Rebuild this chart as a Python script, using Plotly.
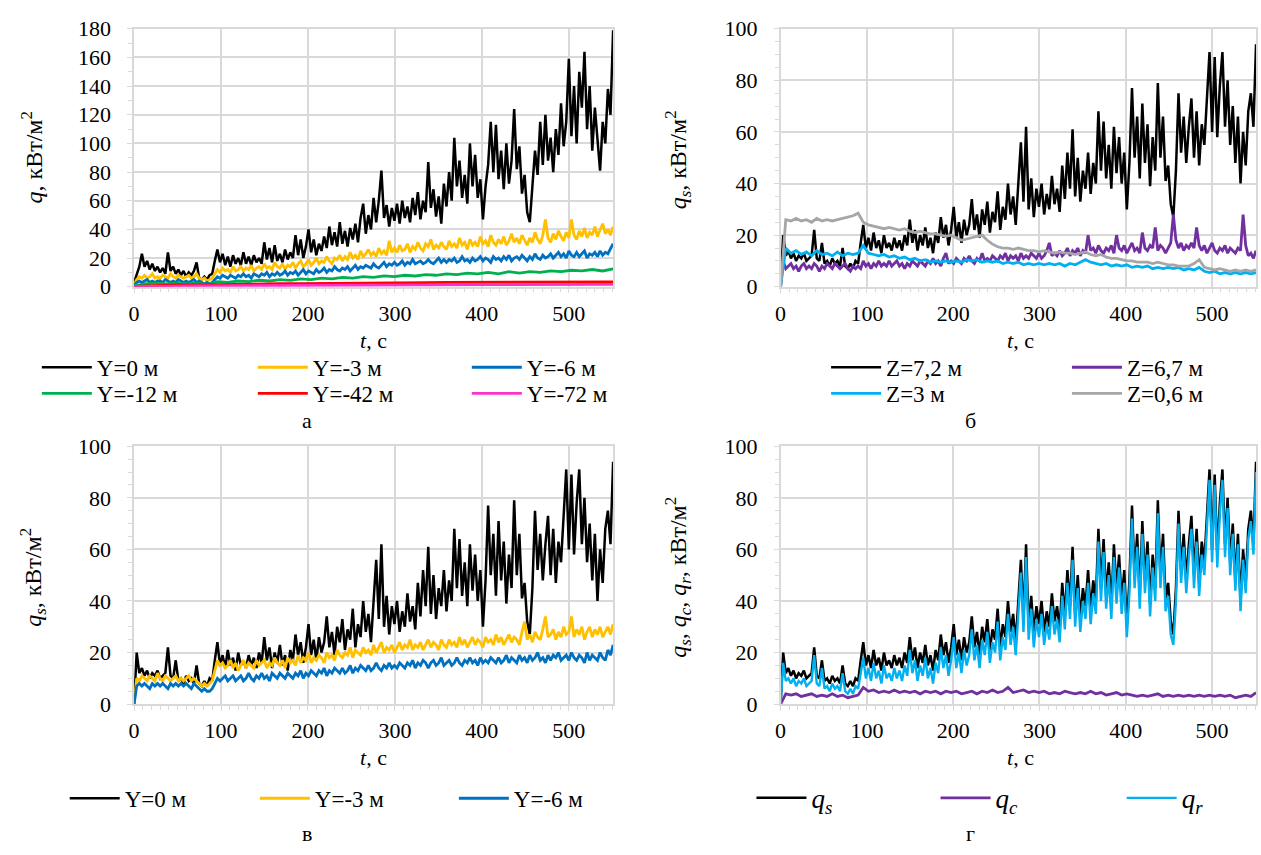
import numpy as np
import plotly.graph_objects as go

W, H = 1261, 855
T_END = 551
FONT = "Liberation Serif, Times New Roman, serif"
GRID = "#d9d9d9"

# ---------------- panel а: q at different Y ----------------
a_y0 = [3, 8, 14, 23, 14, 18, 12, 16, 11, 14,
        10, 13, 9, 24, 11, 14, 9, 12, 8, 11,
        7, 10, 8, 11, 17, 6, 5, 7, 5, 8,
        9, 18, 26, 17, 23, 15, 21, 14, 22, 16,
        20, 15, 24, 16, 21, 15, 22, 17, 20, 16,
        31, 19, 27, 17, 29, 18, 23, 17, 26, 19,
        24, 20, 36, 22, 33, 20, 28, 40, 24, 33,
        22, 30, 25, 35, 27, 42, 29, 38, 28, 45,
        30, 39, 28, 41, 33, 44, 31, 48, 58, 37,
        50, 40, 62, 45, 60, 81, 48, 57, 42, 55,
        46, 58, 44, 60, 48, 56, 45, 62, 50, 66,
        47, 60, 52, 87, 55, 68, 49, 63, 44, 72,
        56, 80, 60, 104, 70, 88, 62, 78, 58, 100,
        70, 92, 62, 75, 47, 70, 85, 115, 80, 113,
        75, 95, 68, 100, 72, 88, 124, 82, 98, 65,
        78, 52, 45, 70, 95, 78, 115, 85, 120, 88,
        104, 80, 110, 92, 128, 98, 115, 159, 105, 140,
        100, 150, 125, 164, 110, 140, 95, 125, 100, 81,
        115, 100, 138, 120, 179]
a_y3 = [1, 5, 7, 6, 8, 6, 7, 9, 6, 7,
        6, 8, 7, 6, 9, 7, 6, 8, 7, 6,
        7, 8, 6, 7, 9, 6, 5, 6, 4, 5,
        6, 9, 12, 10, 13, 11, 12, 10, 14, 11,
        12, 14, 11, 13, 12, 15, 11, 13, 14, 12,
        16, 13, 14, 12, 17, 14, 13, 16, 12, 15,
        14, 17, 13, 16, 18, 14, 16, 19, 15, 17,
        20, 16, 18, 17, 21, 18, 16, 20, 19, 22,
        18, 21, 19, 24, 20, 22, 19, 25, 21, 23,
        26, 22, 24, 21, 27, 23, 25, 22, 32, 24,
        27, 24, 29, 25, 26, 30, 24, 28, 26, 31,
        27, 25, 30, 28, 33, 26, 29, 27, 31, 28,
        26, 32, 28, 30, 27, 34, 29, 31, 26, 33,
        29, 31, 28, 35, 30, 32, 28, 36, 31, 29,
        33, 30, 35, 29, 32, 37, 31, 34, 30, 36,
        32, 29, 34, 31, 38, 33, 30, 36, 47, 34,
        31, 37, 33, 39, 35, 32, 38, 34, 47, 36,
        33, 39, 35, 41, 34, 38, 36, 42, 35, 39,
        44, 37, 40, 36, 42]
a_y6 = [1, 3, 4, 3, 4, 5, 3, 4, 3, 4,
        4, 3, 5, 4, 3, 4, 3, 5, 4, 3,
        4, 3, 4, 5, 3, 4, 3, 2, 3, 2,
        3, 5, 7, 6, 8, 7, 6, 8, 7, 6,
        8, 7, 9, 7, 8, 6, 9, 8, 7, 9,
        8, 10, 7, 9, 8, 10, 8, 9, 11, 8,
        10, 9, 11, 8, 10, 12, 9, 11, 10, 9,
        12, 10, 11, 13, 10, 12, 11, 14, 12, 11,
        13, 12, 14, 11, 13, 15, 12, 14, 13, 15,
        14, 13, 16, 14, 13, 15, 17, 14, 16, 15,
        17, 15, 16, 18, 15, 17, 16, 19, 16, 17,
        18, 16, 17, 19, 17, 16, 18, 20, 17, 19,
        17, 19, 18, 20, 17, 18, 21, 18, 19, 17,
        20, 18, 19, 21, 18, 20, 19, 17, 21, 19,
        20, 18, 21, 19, 22, 18, 20, 21, 19, 22,
        20, 18, 21, 19, 23, 20, 19, 22, 20, 21,
        23, 20, 22, 24, 21, 23, 20, 25, 22, 21,
        24, 21, 23, 25, 20, 23, 22, 24, 21, 25,
        22, 24, 23, 27, 30]
a_y12 = [0.5, 2, 2.5, 2, 2.5, 2, 2.5, 1.5, 3.5, 3,
         4, 3.5, 4.5, 4, 5, 4.5, 5.5, 5, 6, 5.5,
         6.5, 6, 7, 6.5, 7.5, 7, 8, 7.5, 8.5, 8,
         9, 8.5, 9.5, 9, 10, 9, 10.5, 9.5, 10.5, 10,
         11, 10.5, 11.5, 11, 12, 11, 12.5]
a_y42 = [0.3, 1, 1.2, 1.3, 1.6, 1.8, 2, 2.1, 2.2, 2.4,
         2.5, 2.6, 2.7, 2.8, 2.9, 3, 3, 3.1, 3.1, 3.2,
         3.2, 3.3, 3.3, 3.4]
a_y72 = [0.1, 0.4, 0.5, 0.5, 0.6, 0.7, 0.8, 0.8, 0.9, 1,
         1, 1.1, 1.1, 1.2, 1.2, 1.3, 1.3, 1.4, 1.4, 1.4,
         1.5, 1.5, 1.5, 1.6]

# ---------------- panel б: q_s at different Z ----------------
b_z72 = [0, 20, 12, 14, 11, 13, 10, 12, 11, 13,
         10, 11, 12, 22, 11, 10, 17, 9, 10, 8,
         11, 9, 10, 8, 15, 8, 7, 9, 7, 10,
         9, 17, 24, 15, 19, 14, 21, 15, 18, 13,
         20, 15, 17, 14, 19, 15, 18, 14, 20, 16,
         26, 17, 22, 14, 20, 16, 23, 15, 19, 13,
         21, 17, 27, 19, 24, 16, 22, 31, 19, 25,
         17, 26, 20, 24, 34, 22, 28, 19, 30, 24,
         33, 21, 29, 25, 37, 22, 31, 26, 40, 28,
         35, 24, 41, 56, 33, 62, 30, 42, 27, 38,
         31, 40, 28, 36, 30, 43, 32, 38, 29, 47,
         34, 52, 38, 61, 35, 50, 33, 45, 38, 52,
         36, 48, 40, 68, 45, 64, 42, 55, 38, 62,
         44, 58, 40, 52, 30, 48, 77, 50, 66, 42,
         71, 48, 63, 39, 58, 45, 79, 50, 66, 41,
         47, 32, 27, 45, 75, 52, 66, 48, 62, 73,
         50, 68, 47, 63, 55, 72, 91, 60, 89, 58,
         78, 91, 62, 80, 55, 70, 48, 66, 40, 60,
         47, 68, 75, 62, 94]
b_z67 = [0, 10, 7, 8, 9, 7, 8, 6, 8, 9,
         7, 8, 7, 9, 8, 6, 8, 7, 9, 8,
         7, 9, 8, 7, 8, 9, 7, 6, 8, 7,
         8, 7, 10, 8, 9, 7, 9, 8, 10, 8,
         9, 8, 10, 8, 9, 10, 8, 9, 7, 9,
         8, 10, 9, 8, 10, 9, 8, 10, 9, 11,
         9, 10, 8, 11, 13, 9, 10, 9, 11, 10,
         9, 11, 10, 12, 10, 9, 11, 10, 13, 10,
         11, 10, 12, 11, 10, 12, 11, 13, 10, 12,
         11, 12, 10, 13, 11, 12, 11, 13, 12, 11,
         13, 11, 12, 14, 17, 12, 13, 12, 14, 12,
         13, 15, 12, 14, 13, 15, 12, 14, 13, 20,
         14, 15, 13, 16, 14, 13, 15, 14, 16, 13,
         20, 15, 14, 16, 13, 15, 17, 14, 15, 13,
         21, 15, 14, 16, 15, 23, 14, 16, 15, 13,
         15, 17, 28, 18, 15, 17, 14, 16, 15, 17,
         15, 23, 16, 14, 16, 13, 15, 17, 14, 13,
         15, 14, 16, 13, 15, 14, 13, 15, 14, 28,
         16, 12, 13, 11, 14]
b_z3 = [0, 15, 13, 14, 12.5, 13.5, 12, 14, 12.5, 13,
        12, 13.5, 12, 13, 12.5, 13, 16, 13, 12.5, 12,
        12.5, 11.5, 12, 11, 11.5, 10.5, 11, 10, 10.5, 9.5,
        10, 9.5, 10, 9.5, 10, 9.5, 10.5, 10, 10.5, 9.5,
        10, 9.5, 10, 9, 9.5, 9, 9.5, 8.5, 9, 8.5,
        9, 8.5, 9, 8.5, 9, 8, 9, 8.5, 9.5, 10.5,
        9.5, 9, 8.5, 9, 8, 8.5, 8, 8.5, 7.5, 8,
        7.5, 8, 7, 7.5, 7, 7.5, 7, 7.5, 6.5, 7,
        6.5, 7.5, 6, 5.5, 6, 5, 5.5, 5, 5.5, 5,
        5.5, 5, 5.5]
b_z06 = [0, 26, 25.5, 26.5, 25.5, 26, 25, 26.5, 25.5, 26,
         25.5, 26, 26.5, 27, 27.5, 28.5, 25, 24, 23.5, 23,
         22.5, 23, 22.5, 22, 22.5, 21.5, 21, 21.5, 21, 20.5,
         20.5, 20, 19.5, 20, 19, 18, 18.5, 19, 19.5, 20,
         18, 16.5, 15.5, 15, 15, 14.5, 15, 14.5, 14, 14,
         13.5, 14, 13.5, 13, 13.5, 13, 13, 12.5, 13, 13.5,
         12.5, 12, 12.5, 11.5, 11, 11, 10.5, 10, 10, 9.5,
         9.5, 9.5, 9, 9.5, 9, 8.5, 8.5, 8, 8, 8,
         9, 10.5, 7.5, 7, 6.5, 7, 6.5, 6, 6.5, 6,
         6.5, 6, 6.5]

# ---------------- panel в: q_s at different Y ----------------
c_y3 = [0, 10, 9, 11, 10, 9, 11, 10, 9, 12,
        10, 9, 11, 10, 9, 10, 11, 9, 10, 9,
        10, 11, 9, 10, 9, 8, 7, 8, 7, 8,
        9, 13, 17, 15, 16, 14, 15, 17, 14, 16,
        13, 15, 17, 14, 16, 15, 14, 17, 15, 16,
        17, 14, 16, 15, 18, 16, 15, 17, 14, 18,
        16, 17, 15, 19, 16, 18, 17, 20, 16, 18,
        17, 19, 18, 16, 20, 18, 19, 17, 21, 19,
        18, 20, 19, 22, 18, 21, 20, 19, 22, 20,
        21, 19, 23, 20, 22, 24, 20, 22, 21, 23,
        20, 22, 24, 21, 23, 22, 25, 21, 23, 22,
        24, 21, 23, 25, 22, 24, 23, 21, 25, 23,
        22, 25, 23, 24, 22, 26, 23, 25, 22, 24,
        26, 23, 25, 24, 22, 26, 24, 25, 23, 27,
        24, 26, 23, 25, 27, 24, 26, 25, 23, 28,
        32, 25, 27, 24, 28, 26, 25, 29, 34, 26,
        27, 29, 25, 28, 26, 30, 27, 28, 34, 26,
        29, 27, 30, 25, 28, 30, 26, 29, 27, 30,
        26, 28, 30, 27, 31]
c_y6 = [0, 7, 8, 7, 8, 7, 6, 8, 7, 8,
        7, 8, 7, 6, 8, 7, 8, 7, 8, 7,
        8, 7, 6, 8, 7, 6, 5, 6, 5, 5,
        6, 8, 10, 9, 10, 11, 9, 10, 11, 9,
        10, 11, 9, 10, 12, 10, 9, 11, 10, 12,
        10, 11, 9, 12, 11, 10, 12, 11, 10, 12,
        11, 10, 12, 11, 13, 10, 12, 11, 13, 12,
        11, 13, 12, 14, 11, 13, 12, 14, 13, 12,
        14, 12, 13, 15, 12, 14, 13, 15, 14, 13,
        15, 13, 14, 16, 14, 13, 15, 14, 16, 14,
        15, 14, 16, 15, 14, 16, 15, 17, 14, 16,
        15, 17, 16, 14, 16, 17, 15, 16, 18, 15,
        16, 17, 15, 16, 18, 16, 15, 17, 16, 18,
        16, 17, 15, 18, 16, 17, 16, 18, 17, 16,
        18, 16, 17, 19, 16, 18, 17, 16, 19, 17,
        18, 16, 19, 17, 18, 20, 17, 18, 16, 19,
        17, 19, 18, 20, 17, 18, 19, 17, 20, 18,
        17, 19, 18, 16, 20, 17, 19, 18, 17, 20,
        18, 17, 21, 19, 23]

# ---------------- panel г: components of q_s at Z=7.2 ----------------
d_qc = [0, 4, 3.5, 4, 3, 3.5, 4, 3, 3.5, 3,
        4, 3, 3.5, 2.5, 3, 3.5, 6.5, 5, 5.5, 4.5,
        5, 4.5, 5.5, 4.5, 5, 4.5, 5, 4, 5, 4.5,
        5, 4, 5, 4.5, 5, 4, 4.5, 5, 4, 5,
        4.5, 5.5, 4.5, 5, 6.5, 4.5, 5, 5.5, 4.5, 5,
        4.5, 5, 4, 4.5, 4, 5, 4.5, 4, 4.5, 4,
        5, 4, 4.5, 3.5, 4, 4.5, 3.5, 4, 3.5, 3,
        3.5, 3, 3.5, 4, 3, 3.5, 3, 3.5, 3, 3.5,
        3, 3.5, 3, 3.5, 3, 3.5, 3, 3.5, 2.5, 3,
        3.5, 3, 4.5]
d_qr = [0, 16, 9, 10, 8, 10, 7, 9, 8, 10,
        7, 8, 9, 19, 8, 7, 14, 6, 7, 5,
        8, 6, 7, 5, 12, 5, 4, 6, 4, 7,
        6, 12, 18, 10, 14, 9, 16, 10, 13, 8,
        15, 10, 12, 9, 14, 10, 13, 9, 15, 11,
        21, 12, 17, 9, 15, 11, 18, 10, 14, 8,
        16, 12, 22, 14, 19, 11, 17, 26, 14, 20,
        12, 21, 15, 19, 29, 17, 23, 14, 25, 19,
        28, 16, 24, 20, 32, 17, 26, 21, 35, 23,
        30, 19, 36, 51, 28, 57, 25, 37, 22, 33,
        26, 35, 23, 31, 25, 38, 27, 33, 24, 42,
        29, 47, 33, 56, 30, 45, 28, 40, 33, 47,
        31, 43, 35, 63, 40, 59, 37, 50, 33, 57,
        39, 53, 35, 47, 26, 43, 72, 45, 61, 37,
        66, 43, 58, 34, 53, 40, 74, 45, 61, 36,
        42, 27, 23, 40, 70, 47, 61, 43, 57, 68,
        45, 63, 42, 58, 50, 67, 87, 55, 85, 53,
        74, 87, 57, 76, 50, 66, 44, 62, 36, 56,
        43, 64, 71, 58, 90]

X_TICKS = [0, 100, 200, 300, 400, 500]


def times(values):
    """Evenly spaced sampling instants over the record."""
    return np.linspace(0, T_END, len(values))


def fx(px):
    return px / W


def fy(py):
    return 1 - py / H


# plot-area boxes (left, right, top, bottom) in pixels
BOX = {
    "": (128.7, 610, 17.3, 283),
    "2": (778.3, 1256, 17.3, 283),
    "3": (128.7, 610, 447.3, 713),
    "4": (778.3, 1256, 447.3, 713),
}

fig = go.Figure()
legends = {}
LEG_FONT = dict(family=FONT, size=23, color="black")
Q_FONT = dict(family=FONT, size=27, color="black")


def add(panel, values, name, color, slot, width=2.8, font=LEG_FONT):
    """Add one series; each legend entry gets its own legend box at `slot`
    (left end of the key line, row centre) in pixels."""
    key = "legend" if not legends else "legend%d" % (len(legends) + 1)
    line_left, row_y = slot
    legends[key] = dict(
        orientation="h", x=fx(line_left - 6), y=fy(row_y),
        xanchor="left", yanchor="middle", itemwidth=50, font=font,
        bgcolor="rgba(0,0,0,0)", borderwidth=0,
        itemclick=False, itemdoubleclick=False,
    )
    fig.add_trace(go.Scatter(
        x=times(values), y=values, mode="lines", name=name,
        line=dict(color=color, width=width),
        xaxis="x" + panel, yaxis="y" + panel, legend=key,
        hoverinfo="skip",
    ))


# а
add("", a_y0, "Y=0 м", "#000000", (37, 366), 2.5)
add("", a_y3, "Y=-3 м", "#FFC000", (254, 366))
add("", a_y6, "Y=-6 м", "#0070C0", (469, 366))
add("", a_y12, "Y=-12 м", "#00B050", (37, 393))
add("", a_y42, "Y=-42 м", "#FF0000", (254, 393))
add("", a_y72, "Y=-72 м", "#FF33CC", (469, 393))
# б
add("2", b_z72, "Z=7,2 м", "#000000", (830, 366), 2.5)
add("2", b_z67, "Z=6,7 м", "#7030A0", (1072, 366))
add("2", b_z3, "Z=3 м", "#00B0F0", (830, 393))
add("2", b_z06, "Z=0,6 м", "#A6A6A6", (1072, 393))
# в
add("3", b_z72, "Y=0 м", "#000000", (65, 810), 2.5)
add("3", c_y3, "Y=-3 м", "#FFC000", (256, 810))
add("3", c_y6, "Y=-6 м", "#0070C0", (456, 810))
# г
add("4", b_z72, "<i>q<sub>s</sub></i>", "#000000", (755, 810), 2.5, Q_FONT)
add("4", d_qc, "<i>q<sub>c</sub></i>", "#7030A0", (940, 810), 2.8, Q_FONT)
add("4", d_qr, "<i>q<sub>r</sub></i>", "#00B0F0", (1127, 810), 2.4, Q_FONT)

tick_font = dict(family=FONT, size=22, color="black")

layout = dict(
    width=W, height=H, margin=dict(l=0, r=0, t=0, b=0),
    paper_bgcolor="white", plot_bgcolor="white", showlegend=True,
    font=dict(family=FONT, size=22, color="black"),
)
layout.update(legends)

for key, (l, r, t, b) in BOX.items():
    ymax = 180 if key == "" else 100
    layout["xaxis" + key] = dict(
        domain=[fx(l), fx(r)], anchor="y" + key, range=[0, T_END],
        tickvals=X_TICKS, showgrid=True, gridcolor=GRID, gridwidth=1.5,
        showline=True, linecolor=GRID, linewidth=1.5, mirror=True,
        ticks="outside", ticklen=5, tickcolor=GRID, tickwidth=1.2,
        minor=dict(dtick=10, tick0=0, ticks="outside", ticklen=4,
                   tickcolor=GRID, tickwidth=1, showgrid=False),
        tickfont=tick_font, zeroline=False, fixedrange=True,
        ticklabelstandoff=1,
    )
    layout["yaxis" + key] = dict(
        domain=[fy(b), fy(t)], anchor="x" + key, range=[0, ymax],
        dtick=20, tick0=0, showgrid=True, gridcolor=GRID, gridwidth=1.5,
        showline=True, linecolor=GRID, linewidth=1.5, mirror=True,
        ticks="outside", ticklen=5, tickcolor=GRID, tickwidth=1.2,
        minor=dict(dtick=10 if key == "" else 5, tick0=0, ticks="outside",
                   ticklen=4, tickcolor=GRID, tickwidth=1, showgrid=False),
        tickfont=tick_font, zeroline=False, fixedrange=True,
        ticklabelstandoff=12,
    )

annotations = []


def note(text, px, py, size=22, angle=0):
    annotations.append(dict(
        text=text, x=fx(px), y=fy(py), xref="paper", yref="paper",
        showarrow=False, xanchor="center", yanchor="middle",
        textangle=angle, font=dict(family=FONT, size=size, color="black"),
    ))


# axis titles
for px_c, py_c in [(369, 338), (1019, 338), (369, 768), (1019, 768)]:
    note("<i>t</i>, с", px_c, py_c)
note("<i>q</i>, кВт/м<sup>2</sup>", 26, 150, 24, -90)
note("<i>q<sub>s</sub></i>, кВт/м<sup>2</sup>", 675, 152, 24, -90)
note("<i>q<sub>s</sub></i>, кВт/м<sup>2</sup>", 27, 582, 24, -90)
note("<i>q<sub>s</sub></i>, <i>q<sub>c</sub></i>, <i>q<sub>r</sub></i>, кВт/м<sup>2</sup>",
     675, 582, 24, -90)
# panel captions
note("а", 302, 421)
note("б", 969, 421)
note("в", 302, 846)
note("г", 969, 846)

layout["annotations"] = annotations
fig.update_layout(**layout)
fig.write_html("out.html")
